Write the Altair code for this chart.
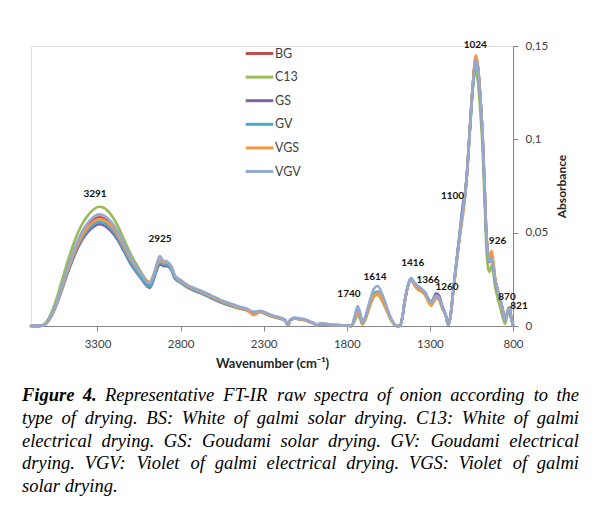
import altair as alt
import pandas as pd

FONT = "Lato"

wavenumber = [
    3700, 3650, 3620,
    3600, 3560, 3520, 3480, 3440, 3400, 3360, 3320, 3291, 3260, 3220, 3180, 3140, 3100, 3060, 3030, 3000, 2985, 2965, 2945,
    2925, 2905, 2880, 2855, 2835,
    2800, 2760, 2720, 2680, 2640, 2600, 2560, 2500, 2450, 2400, 2362, 2340, 2322, 2300, 2270, 2240, 2200, 2170, 2154, 2140,
    2112, 2080, 2050, 2020, 2000, 1981, 1960, 1920, 1890, 1860,
    1800, 1770, 1752, 1734, 1720, 1706, 1690, 1660, 1635, 1614, 1590, 1560, 1530, 1500,
    1480, 1465, 1450, 1430, 1414, 1395, 1370, 1350, 1329, 1310, 1293, 1275, 1263, 1245, 1225, 1205, 1189,
    1175, 1159, 1140, 1120, 1100, 1090, 1080, 1060, 1040, 1024, 1010, 1000, 982, 970, 962, 950, 942, 928, 915, 908, 895,
    882, 868, 858, 848, 835, 822, 810, 800,
]

BG = [
    0.0, 0.0, 0.0005,
    0.0023, 0.0090, 0.0190, 0.0300, 0.0400, 0.0480, 0.0535, 0.0570, 0.0582, 0.0575, 0.0545, 0.0495, 0.0425, 0.0355, 0.0300, 0.0262, 0.0228, 0.0218, 0.0255, 0.0310,
    0.0350, 0.0338, 0.0335, 0.0310, 0.0265,
    0.0238, 0.0213, 0.0196, 0.0182, 0.0166, 0.0149, 0.0133, 0.0113, 0.0099, 0.0087, 0.0072, 0.0074, 0.0078, 0.0072, 0.0061, 0.0051, 0.0042, 0.0030, 0.0004, 0.0032,
    0.0042, 0.0037, 0.0033, 0.0022, 0.0016, 0.0003, 0.0012, 0.0010, 0.0005, 0.0005,
    0.0002, 0.0, 0.0045, 0.0090, 0.0058, 0.0014, 0.0040, 0.0122, 0.0172, 0.0180, 0.0150, 0.0090, 0.0030, 0.0,
    0.0, 0.0050, 0.0140, 0.0220, 0.0254, 0.0222, 0.0195, 0.0186, 0.0170, 0.0138, 0.0118, 0.0142, 0.0158, 0.0148, 0.0098, 0.0058, 0.0005,
    0.0060, 0.0193, 0.0340, 0.0490, 0.0630, 0.0690, 0.0780, 0.1050, 0.1310, 0.1440, 0.1380, 0.1270, 0.1000, 0.0720, 0.0520, 0.0380, 0.0345, 0.0370, 0.0300, 0.0250, 0.0200,
    0.0158, 0.0112, 0.0070, 0.0030, 0.0070, 0.0100, 0.0040, 0.0005,
]

C13 = [
    0.0, 0.0, 0.0010,
    0.0032, 0.0110, 0.0225, 0.0345, 0.0450, 0.0533, 0.0590, 0.0627, 0.0639, 0.0632, 0.0598, 0.0540, 0.0463, 0.0385, 0.0322, 0.0278, 0.0240, 0.0232, 0.0262, 0.0312,
    0.0348, 0.0340, 0.0338, 0.0312, 0.0268,
    0.0242, 0.0217, 0.0200, 0.0186, 0.0170, 0.0152, 0.0136, 0.0116, 0.0101, 0.0089, 0.0073, 0.0075, 0.0079, 0.0073, 0.0062, 0.0052, 0.0043, 0.0031, 0.0004, 0.0033,
    0.0043, 0.0038, 0.0033, 0.0022, 0.0016, 0.0003, 0.0012, 0.0010, 0.0005, 0.0005,
    0.0002, 0.0, 0.0028, 0.0059, 0.0038, 0.0008, 0.0030, 0.0108, 0.0158, 0.0166, 0.0138, 0.0082, 0.0026, 0.0,
    0.0, 0.0048, 0.0138, 0.0218, 0.0252, 0.0225, 0.0200, 0.0188, 0.0168, 0.0132, 0.0109, 0.0133, 0.0150, 0.0140, 0.0093, 0.0055, 0.0005,
    0.0058, 0.0190, 0.0335, 0.0485, 0.0625, 0.0682, 0.0770, 0.1035, 0.1280, 0.1370, 0.1300, 0.1190, 0.0930, 0.0650, 0.0450, 0.0310, 0.0290, 0.0327, 0.0262, 0.0212, 0.0160,
    0.0115, 0.0068, 0.0035, 0.0012, 0.0055, 0.0090, 0.0035, 0.0005,
]

GS = [
    0.0, 0.0, 0.0005,
    0.0021, 0.0084, 0.0178, 0.0281, 0.0374, 0.0449, 0.0501, 0.0534, 0.0545, 0.0538, 0.0510, 0.0463, 0.0398, 0.0332, 0.0281, 0.0245, 0.0212, 0.0204, 0.0240, 0.0295,
    0.0330, 0.0322, 0.0320, 0.0298, 0.0255,
    0.0232, 0.0207, 0.0190, 0.0176, 0.0160, 0.0143, 0.0127, 0.0108, 0.0095, 0.0083, 0.0069, 0.0071, 0.0075, 0.0069, 0.0058, 0.0048, 0.0039, 0.0028, 0.0002, 0.0030,
    0.0040, 0.0035, 0.0031, 0.0020, 0.0014, 0.0002, 0.0010, 0.0009, 0.0004, 0.0004,
    0.0002, 0.0, 0.0048, 0.0095, 0.0062, 0.0015, 0.0040, 0.0120, 0.0171, 0.0180, 0.0150, 0.0090, 0.0030, 0.0,
    0.0, 0.0050, 0.0140, 0.0222, 0.0256, 0.0232, 0.0211, 0.0198, 0.0180, 0.0148, 0.0128, 0.0155, 0.0175, 0.0163, 0.0106, 0.0060, 0.0005,
    0.0062, 0.0198, 0.0348, 0.0505, 0.0660, 0.0705, 0.0785, 0.1050, 0.1305, 0.1430, 0.1375, 0.1265, 0.0995, 0.0715, 0.0515, 0.0378, 0.0342, 0.0368, 0.0298, 0.0248, 0.0198,
    0.0156, 0.0110, 0.0068, 0.0029, 0.0068, 0.0098, 0.0040, 0.0005,
]

GV = [
    0.0, 0.0, 0.0005,
    0.0022, 0.0086, 0.0182, 0.0288, 0.0384, 0.0461, 0.0514, 0.0547, 0.0559, 0.0552, 0.0523, 0.0475, 0.0408, 0.0341, 0.0288, 0.0251, 0.0219, 0.0210, 0.0248, 0.0303,
    0.0340, 0.0330, 0.0327, 0.0303, 0.0258,
    0.0234, 0.0209, 0.0192, 0.0178, 0.0162, 0.0145, 0.0129, 0.0110, 0.0096, 0.0084, 0.0070, 0.0072, 0.0076, 0.0070, 0.0059, 0.0049, 0.0040, 0.0029, 0.0003, 0.0031,
    0.0041, 0.0036, 0.0032, 0.0021, 0.0015, 0.0002, 0.0011, 0.0009, 0.0004, 0.0004,
    0.0002, 0.0, 0.0050, 0.0100, 0.0065, 0.0016, 0.0042, 0.0125, 0.0177, 0.0185, 0.0154, 0.0092, 0.0031, 0.0,
    0.0, 0.0050, 0.0141, 0.0222, 0.0256, 0.0231, 0.0210, 0.0196, 0.0177, 0.0144, 0.0123, 0.0146, 0.0162, 0.0151, 0.0100, 0.0058, 0.0005,
    0.0060, 0.0193, 0.0340, 0.0492, 0.0635, 0.0690, 0.0780, 0.1048, 0.1308, 0.1430, 0.1378, 0.1270, 0.1000, 0.0722, 0.0522, 0.0385, 0.0350, 0.0378, 0.0305, 0.0254, 0.0203,
    0.0160, 0.0113, 0.0071, 0.0030, 0.0071, 0.0101, 0.0041, 0.0005,
]

VGS = [
    0.0, 0.0, 0.0005,
    0.0022, 0.0087, 0.0185, 0.0294, 0.0393, 0.0472, 0.0527, 0.0561, 0.0573, 0.0567, 0.0540, 0.0492, 0.0425, 0.0358, 0.0305, 0.0270, 0.0240, 0.0235, 0.0268, 0.0318,
    0.0352, 0.0342, 0.0340, 0.0315, 0.0270,
    0.0241, 0.0216, 0.0199, 0.0185, 0.0169, 0.0151, 0.0135, 0.0114, 0.0098, 0.0085, 0.0058, 0.0066, 0.0076, 0.0071, 0.0060, 0.0050, 0.0041, 0.0029, 0.0003, 0.0031,
    0.0041, 0.0036, 0.0032, 0.0021, 0.0015, 0.0002, 0.0011, 0.0009, 0.0004, 0.0004,
    0.0002, 0.0, 0.0042, 0.0085, 0.0055, 0.0013, 0.0038, 0.0118, 0.0167, 0.0175, 0.0146, 0.0087, 0.0029, 0.0,
    0.0, 0.0049, 0.0139, 0.0219, 0.0253, 0.0221, 0.0193, 0.0184, 0.0166, 0.0132, 0.0109, 0.0134, 0.0150, 0.0141, 0.0094, 0.0056, 0.0005,
    0.0058, 0.0188, 0.0333, 0.0480, 0.0600, 0.0680, 0.0780, 0.1055, 0.1318, 0.1450, 0.1390, 0.1278, 0.1008, 0.0728, 0.0530, 0.0395, 0.0368, 0.0403, 0.0322, 0.0262, 0.0208,
    0.0162, 0.0115, 0.0072, 0.0031, 0.0072, 0.0102, 0.0041, 0.0005,
]

VGV = [
    0.0, 0.0, 0.0005,
    0.0024, 0.0093, 0.0196, 0.0309, 0.0411, 0.0493, 0.0550, 0.0586, 0.0598, 0.0591, 0.0560, 0.0510, 0.0440, 0.0368, 0.0311, 0.0272, 0.0236, 0.0228, 0.0268, 0.0328,
    0.0375, 0.0350, 0.0345, 0.0318, 0.0272,
    0.0246, 0.0221, 0.0204, 0.0190, 0.0174, 0.0157, 0.0140, 0.0120, 0.0105, 0.0092, 0.0077, 0.0078, 0.0082, 0.0076, 0.0065, 0.0055, 0.0045, 0.0033, 0.0006, 0.0035,
    0.0045, 0.0040, 0.0035, 0.0024, 0.0018, 0.0005, 0.0014, 0.0011, 0.0006, 0.0006,
    0.0002, 0.0, 0.0054, 0.0107, 0.0070, 0.0018, 0.0048, 0.0140, 0.0202, 0.0214, 0.0178, 0.0105, 0.0035, 0.0,
    0.0, 0.0051, 0.0142, 0.0223, 0.0257, 0.0232, 0.0211, 0.0197, 0.0178, 0.0145, 0.0124, 0.0147, 0.0162, 0.0152, 0.0101, 0.0059, 0.0005,
    0.0060, 0.0192, 0.0338, 0.0490, 0.0632, 0.0690, 0.0780, 0.1045, 0.1300, 0.1425, 0.1372, 0.1265, 0.0998, 0.0720, 0.0520, 0.0382, 0.0345, 0.0362, 0.0296, 0.0248, 0.0198,
    0.0157, 0.0111, 0.0070, 0.0030, 0.0070, 0.0100, 0.0040, 0.0005,
]

series_names = ["BG", "C13", "GS", "GV", "VGS", "VGV"]
series_colors = ["#C0504D", "#9BBB59", "#8064A2", "#4BACC6", "#F79646", "#93A9D2"]
series_values = [BG, C13, GS, GV, VGS, VGV]

peak_text = ["3291", "2925", "1740", "1614", "1416", "1366", "1260", "1100", "1024", "926", "870", "821"]
peak_wn = [3315, 2924, 1787, 1630, 1403, 1311, 1197, 1164, 1027, 893, 836, 764]
peak_abs = [0.0707, 0.0464, 0.0171, 0.0262, 0.0340, 0.0249, 0.0209, 0.0695, 0.1503, 0.0453, 0.0158, 0.0106]

x_ticks = [3300, 2800, 2300, 1800, 1300, 800]
y_ticks = [0, 0.05, 0.1, 0.15]

caption_bold = "Figure 4."
caption_lines = [
    "Representative FT-IR raw spectra of onion according to the",
    "type of drying. BS: White of galmi solar drying. C13: White of galmi",
    "electrical drying. GS: Goudami solar drying. GV: Goudami electrical",
    "drying. VGV: Violet of galmi electrical drying. VGS: Violet of galmi",
    "solar drying.",
]

records = []
for name, values in zip(series_names, series_values):
    assert len(values) == len(wavenumber), name
    for w, a in zip(wavenumber, values):
        records.append({"series": name, "wn": w, "absorbance": a})
spectra = pd.DataFrame(records)
peaks = pd.DataFrame({"label": peak_text, "wn": peak_wn, "absorbance": peak_abs})

X_TITLE = "Wavenumber (cm\u207b\u00b9)"
Y_TITLE = "Absorbance"

x_scale = alt.Scale(domain=[800, 3700], reverse=True, nice=False, zero=False)
y_scale = alt.Scale(domain=[0, 0.15], nice=False, zero=True)

lines = alt.Chart(spectra).mark_line(
    strokeWidth=2.6, strokeCap="round", strokeJoin="round", interpolate="monotone"
).encode(
    x=alt.X(
        "wn:Q", scale=x_scale, title=X_TITLE,
        axis=alt.Axis(
            values=x_ticks, format="d", labelFont=FONT, labelFontSize=11.5, labelColor="#404040",
            labelPadding=7, tickSize=5, tickColor="#868686", domainColor="#868686", grid=False,
            labelFlush=False, titleFont=FONT, titleFontSize=13, titleFontWeight="bold",
            titleColor="#262626", titleY=37, titleBaseline="middle",
        ),
    ),
    y=alt.Y(
        "absorbance:Q", scale=y_scale, title=Y_TITLE,
        axis=alt.Axis(
            orient="right", values=y_ticks,
            labelExpr="datum.value == 0 ? '0' : replace(toString(datum.value), '.', ',')",
            labelFont=FONT, labelFontSize=11.5, labelColor="#404040", labelPadding=7,
            tickSize=5, tickColor="#868686", domainColor="#868686", grid=False,
            titleFont=FONT, titleFontSize=12, titleFontWeight="bold", titleColor="#262626",
            titleAngle=270, titleX=48, titleY=140, titleBaseline="middle", titleAlign="center",
        ),
    ),
    color=alt.Color(
        "series:N",
        scale=alt.Scale(domain=series_names, range=series_colors),
        legend=alt.Legend(
            title=None, orient="none", legendX=215, legendY=-6,
            symbolType="M-1.15,0H1.15", symbolSize=576, symbolStrokeWidth=3,
            labelFont=FONT, labelFontSize=12.5, labelColor="#404040", labelOffset=2,
            rowPadding=3.6, padding=0,
        ),
    ),
)

peak_layer = alt.Chart(peaks).mark_text(
    font=FONT, fontSize=10, fontWeight="bold", color="#111111", baseline="middle", align="center"
).encode(
    x=alt.X("wn:Q", scale=x_scale, title=X_TITLE),
    y=alt.Y("absorbance:Q", scale=y_scale, title=Y_TITLE),
    text="label:N",
)

# ---- caption (justified, Times-like metrics for word placement) ----
CAP_FONT = "Liberation Serif"
CAP_SIZE = 18.5
CAP_LEFT = -9
CAP_RIGHT = 548
CAP_TOP = 349
CAP_LEAD = 22.8

ITALIC_W = {
    "a": 500, "b": 500, "c": 444, "d": 500, "e": 444, "f": 278, "g": 500, "h": 500, "i": 278,
    "j": 278, "k": 444, "l": 278, "m": 722, "n": 500, "o": 500, "p": 500, "q": 500, "r": 389,
    "s": 389, "t": 278, "u": 500, "v": 444, "w": 667, "x": 444, "y": 444, "z": 389,
    "A": 611, "B": 611, "C": 667, "D": 722, "E": 611, "F": 611, "G": 722, "H": 722, "I": 333,
    "J": 444, "K": 667, "L": 556, "M": 833, "N": 667, "O": 722, "P": 611, "Q": 722, "R": 611,
    "S": 500, "T": 556, "U": 722, "V": 611, "W": 833, "X": 611, "Y": 556, "Z": 556,
    " ": 250, ".": 250, ",": 250, ":": 333, "-": 333,
}
for d in "0123456789":
    ITALIC_W[d] = 500
BOLD_ITALIC_W = dict(ITALIC_W)
BOLD_ITALIC_W.update({"F": 667, "u": 556})


def word_width(word, bold):
    table = BOLD_ITALIC_W if bold else ITALIC_W
    return sum(table.get(ch, 500) for ch in word) * CAP_SIZE / 1000.0


cap_layers = []
for li, line in enumerate(caption_lines):
    words = [(w, False) for w in line.split(" ")]
    if li == 0:
        words = [(w, True) for w in caption_bold.split(" ")] + words
    widths = [word_width(w, b) for w, b in words]
    space = ITALIC_W[" "] * CAP_SIZE / 1000.0
    justify = li < len(caption_lines) - 1
    if justify and len(words) > 1:
        gap = (CAP_RIGHT - CAP_LEFT - sum(widths)) / (len(words) - 1)
    else:
        gap = space
    xpos = CAP_LEFT
    for (w, b), wd in zip(words, widths):
        cap_layers.append(
            alt.Chart(pd.DataFrame({"t": [w]})).mark_text(
                font=CAP_FONT, fontSize=CAP_SIZE, fontStyle="italic",
                fontWeight="bold" if b else "normal",
                align="left", baseline="middle", color="#000000",
            ).encode(x=alt.value(round(xpos, 2)), y=alt.value(CAP_TOP + li * CAP_LEAD), text="t:N")
        )
        xpos += wd + gap

chart = alt.layer(lines, peak_layer, *cap_layers).properties(
    width=482, height=280,
    autosize=alt.AutoSizeParams(type="none"),
    padding={"left": 23, "top": 38, "right": 88, "bottom": 178},
).configure_view(strokeWidth=0).configure(background="white")

chart.save("out.html", embed_options={"renderer": "svg", "actions": False})
